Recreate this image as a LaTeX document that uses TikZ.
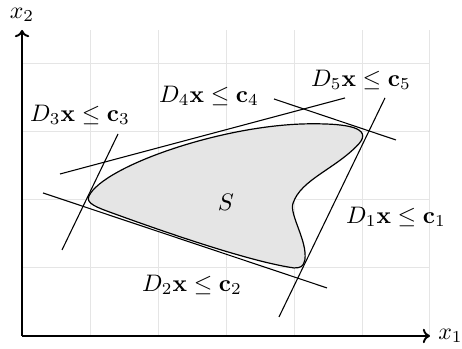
\documentclass[tikz,border=0pt]{standalone}
\usetikzlibrary{arrows.meta}
\begin{document}
\begin{tikzpicture}[x=1cm,y=1cm,
  gridline/.style={draw=black!10,line width=0.4pt},
  axisline/.style={thick,-{To[length=3pt,width=6pt]}},
  tangent/.style={line width=0.45pt},
  lbl/.style={inner sep=1pt}]
\useasboundingbox (-0.324,-0.191) rectangle (6.471,4.941);
\draw[gridline] (0,0) grid (6,4.5);
\coordinate (O) at (0,0);
\coordinate (xend) at (6,0);
\coordinate (yend) at (0,4.5);
\draw[axisline] (O) -- (xend);
\draw[axisline] (O) -- (yend);
\node[lbl,anchor=west] (x1) at (6.08,0) {$x_1$};
\node[lbl,anchor=south] (x2) at (0,4.58) {$x_2$};
% set S
\draw[fill=black!10,line width=0.5pt]
  (0.985,2.06) .. controls (1.2,2.5) and (3.0,3.13) .. (4.3,3.12)
  .. controls (4.75,3.12) and (5.17,3.07) .. (4.95,2.82)
  .. controls (4.6,2.45) and (4.1,2.3) .. (3.985,1.95)
  .. controls (3.93,1.78) and (4.2,1.4) .. (4.16,1.12)
  .. controls (4.14,1.02) and (4.1,1.0) .. (4.0,1.0)
  .. controls (3.3,1.1) and (1.9,1.6) .. (1.35,1.8)
  .. controls (1.1,1.89) and (0.93,1.95) .. cycle;
\node (S) at (3.0,1.97) {$S$};
% tangent lines
\coordinate (a3) at (0.588,1.265); \coordinate (b3) at (1.412,2.971);
\coordinate (a2) at (0.309,2.103); \coordinate (b2) at (4.485,0.706);
\coordinate (a4) at (0.559,2.382); \coordinate (b4) at (4.75,3.5);
\coordinate (a5) at (3.706,3.485); \coordinate (b5) at (5.5,2.882);
\coordinate (a1) at (5.338,3.5);   \coordinate (b1) at (3.779,0.279);
\draw[tangent] (a3) -- (b3);
\draw[tangent] (a2) -- (b2);
\draw[tangent] (a4) -- (b4);
\draw[tangent] (a5) -- (b5);
\draw[tangent] (a1) -- (b1);
% labels
\node[lbl] (l3) at (0.853,3.25) {$D_3\mathbf{x}\leq\mathbf{c}_3$};
\node[lbl] (l4) at (2.75,3.53) {$D_4\mathbf{x}\leq\mathbf{c}_4$};
\node[lbl] (l5) at (4.985,3.765) {$D_5\mathbf{x}\leq\mathbf{c}_5$};
\node[lbl] (l1) at (5.5,1.75) {$D_1\mathbf{x}\leq\mathbf{c}_1$};
\node[lbl] (l2) at (2.5,0.75) {$D_2\mathbf{x}\leq\mathbf{c}_2$};
\end{tikzpicture}
\end{document}
